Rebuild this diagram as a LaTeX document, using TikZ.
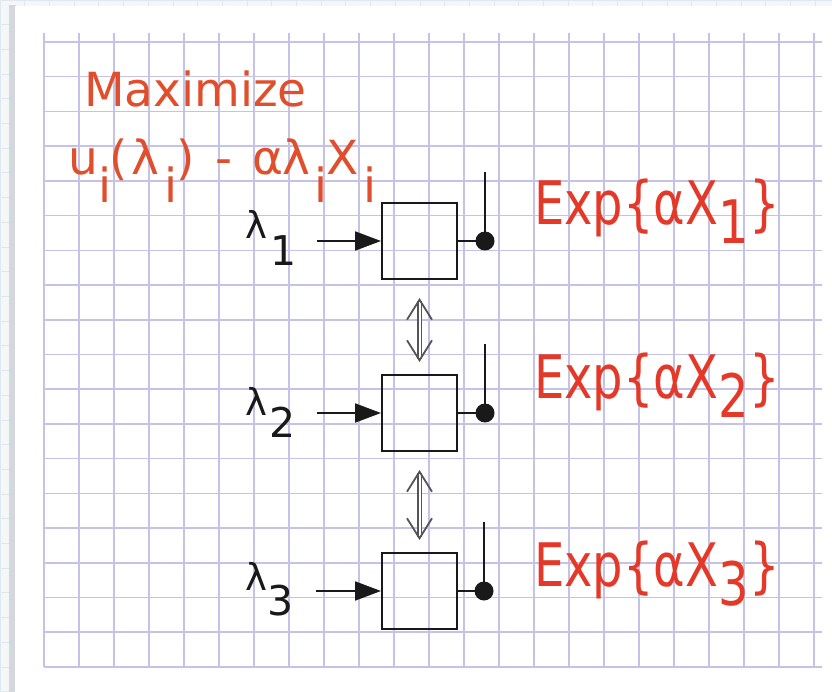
\documentclass[tikz,border=0pt]{standalone}
\usepackage{fontspec}
\setmainfont{DejaVu Sans}
\usetikzlibrary{arrows.meta}
\definecolor{gridc}{RGB}{197,194,232}
\definecolor{bgc}{RGB}{244,246,248}
\definecolor{outgridc}{RGB}{222,232,240}
\definecolor{shadowc}{RGB}{212,216,220}
\definecolor{maxred}{RGB}{224,78,44}
\definecolor{expred}{RGB}{228,56,40}
\definecolor{ink}{RGB}{25,25,25}
\definecolor{dblc}{RGB}{85,85,85}
\newcommand\gp[3]{\rlap{\hspace*{#1pt}\raisebox{-#2pt}{#3}}}
\tikzset{
  gridline/.style={draw=gridc, line width=1.5pt},
  outgrid/.style={draw=outgridc, line width=0.8pt},
  blockbox/.style={draw=ink, line width=2pt, minimum width=75pt, minimum height=76pt, inner sep=0pt},
  dotnode/.style={circle, fill=ink, minimum size=19pt, inner sep=0pt},
  ln/.style={draw=ink, line width=2pt},
  inarrow/.style={draw=ink, line width=2pt, -{Triangle[length=26pt,width=19pt]}},
  dblarrow/.style={draw=dblc, double=white, double distance=2pt, line width=1.4pt,
     {Straight Barb[length=20pt,width=25pt,line width=1.8pt]}-{Straight Barb[length=20pt,width=25pt,line width=1.8pt]}},
  titletext/.style={text=maxred, inner sep=0pt, font=\fontsize{47}{56}\selectfont},
  exptext/.style={text=expred, inner sep=0pt, font=\fontsize{60}{70}\selectfont},
  lamtext/.style={text=ink, inner sep=0pt, font=\fontsize{37}{42}\selectfont},
  subtext/.style={text=ink, inner sep=0pt, font=\fontsize{41}{48}\selectfont},
}
\begin{document}
\begin{tikzpicture}[x=1pt,y=-1pt]
\useasboundingbox (0,0) rectangle (832,692);
% outer background
\fill[bgc] (0,0) rectangle (832,692);
\foreach \k in {0,...,34} \draw[outgrid] ({\k*24.7},0) -- ({\k*24.7},692);
\foreach \k in {0,...,28} \draw[outgrid] (0,{\k*24.7}) -- (832,{\k*24.7});
% panel
\fill[shadowc] (9,5) rectangle (16,692);
\fill[white] (15,6) rectangle (832,692);
% grid
\foreach \k in {0,...,22} \draw[gridline] ({44+35*\k},33) -- ({44+35*\k},667);
\foreach \k in {0,...,18} \draw[gridline] (44,{42+34.72*\k}) -- (822,{42+34.72*\k});

% title
\node[titletext, anchor=base west] (max) at (84,107) {Maximize};
\node[titletext, anchor=base west] (form) at (68,175) {%
  \gp{0}{0}{u}\gp{30}{28}{i}\gp{41}{0}{(}\gp{63}{0}{λ}\gp{96}{28}{i}\gp{108}{0}{)}%
  \gp{147}{0}{-}\gp{184}{0}{α}\gp{214}{0}{λ}\gp{246}{28}{i}\gp{258}{0}{X}\gp{295}{28}{i}};

% blocks
\node[blockbox] (b1) at (419.5,241) {};
\node[blockbox] (b2) at (419.5,413) {};
\node[blockbox] (b3) at (419.5,591) {};

% inputs
\coordinate (in1) at (317,241);
\coordinate (in2) at (317,413);
\coordinate (in3) at (316,591);
\draw[inarrow] (in1) -- (b1.west);
\draw[inarrow] (in2) -- (b2.west);
\draw[inarrow] (in3) -- (b3.west);

% lambda labels
\node[lamtext, anchor=base west] (l1) at (245,239) {λ};
\node[subtext, anchor=base west] (s1) at (270,266) {1};
\node[lamtext, anchor=base west] (l2) at (245,415) {λ};
\node[subtext, anchor=base west] (s2) at (269,437) {2};
\node[lamtext, anchor=base west] (l3) at (245,590) {λ};
\node[subtext, anchor=base west] (s3) at (267,615) {3};

% outputs
\node[dotnode] (d1) at (485,241) {};
\node[dotnode] (d2) at (485,413) {};
\node[dotnode] (d3) at (484,591) {};
\coordinate (t1) at (485,172);
\coordinate (t2) at (485,344);
\coordinate (t3) at (484,522);
\draw[ln] (b1.east) -- (d1.center);
\draw[ln] (b2.east) -- (d2.center);
\draw[ln] (b3.east) -- (d3.center);
\draw[ln] (t1) -- (d1.center);
\draw[ln] (t2) -- (d2.center);
\draw[ln] (t3) -- (d3.center);

% coupling arrows
\draw[dblarrow, shorten <=18pt, shorten >=12pt] (b1.south) -- (b2.north);
\draw[dblarrow, shorten <=18pt, shorten >=12pt] (b2.south) -- (b3.north);

% exp labels
\node[exptext, anchor=base west] (e1) at (534,225) {\scalebox{0.8}[1]{Exp\{αX\raisebox{-19pt}{1}\}}};
\node[exptext, anchor=base west] (e2) at (534,398) {\scalebox{0.8}[1]{Exp\{αX\raisebox{-19pt}{2}\}}};
\node[exptext, anchor=base west] (e3) at (534,586) {\scalebox{0.8}[1]{Exp\{αX\raisebox{-19pt}{3}\}}};
\end{tikzpicture}
\end{document}
